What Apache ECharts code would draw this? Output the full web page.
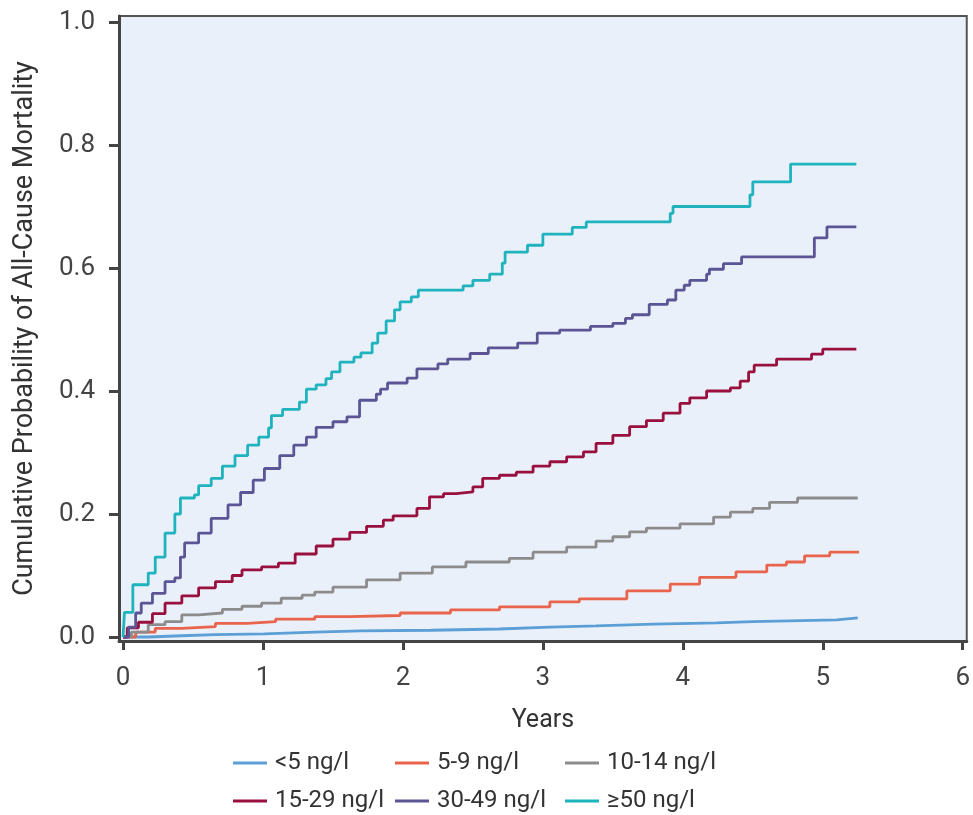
<!DOCTYPE html>
<html lang="en">
<head>
<meta charset="utf-8">
<title>Cumulative Probability of All-Cause Mortality</title>
<script src="https://cdn.jsdelivr.net/npm/echarts@6/dist/echarts.min.js"></script>
<style>
  html, body { margin: 0; padding: 0; background: #fff; }
  #chart { width: 973px; height: 815px; }
</style>
</head>
<body>
<div id="chart"></div>
<script type="text/javascript">
// group names
var groups = ['<5 ng/l', '5-9 ng/l', '10-14 ng/l', '15-29 ng/l', '30-49 ng/l', '\u226550 ng/l'];
var colors = ['#5b9fd6', '#e9644c', '#8c8c8c', '#990f3d', '#5b5596', '#1fb3be'];

// tick labels
var xTicks = [0, 1, 2, 3, 4, 5, 6];
var yTicks = [0, 0.2, 0.4, 0.6, 0.8, 1.0];

// step curves (time in years, cumulative probability)
var t1 = [0, 0.18, 0.42, 0.66, 1.01, 1.37, 1.70, 2.20, 2.69, 3.05, 3.38, 3.79, 4.24, 4.50, 5.10, 5.25];
var y1 = [0, 0.002, 0.004, 0.005, 0.008, 0.010, 0.011, 0.013, 0.016, 0.018, 0.021, 0.023, 0.025, 0.028, 0.031, 0.031];

var t2 = [0, 0.09, 0.23, 0.42, 0.66, 0.89, 1.09, 1.37, 1.62, 1.98, 2.34, 2.69, 3.05, 3.26, 3.60, 3.91, 4.12, 4.38, 4.60, 4.74, 4.87, 5.05, 5.26];
var y2 = [0, 0.008, 0.014, 0.017, 0.022, 0.025, 0.029, 0.033, 0.035, 0.039, 0.044, 0.049, 0.057, 0.062, 0.075, 0.086, 0.097, 0.106, 0.117, 0.122, 0.132, 0.138, 0.138];

var t3 = [0, 0.06, 0.18, 0.30, 0.42, 0.54, 0.71, 0.85, 0.99, 1.13, 1.28, 1.37, 1.50, 1.74, 1.98, 2.21, 2.45, 2.76, 2.93, 3.17, 3.38, 3.50, 3.62, 3.74, 3.98, 4.22, 4.34, 4.50, 4.62, 4.82, 5.25];
var y3 = [0, 0.008, 0.020, 0.025, 0.036, 0.039, 0.045, 0.050, 0.055, 0.063, 0.068, 0.073, 0.081, 0.093, 0.104, 0.114, 0.122, 0.128, 0.138, 0.146, 0.156, 0.163, 0.171, 0.177, 0.184, 0.195, 0.203, 0.209, 0.219, 0.226, 0.226];

var t4 = [0, 0.03, 0.11, 0.21, 0.30, 0.42, 0.54, 0.66, 0.78, 0.85, 0.99, 1.11, 1.23, 1.38, 1.50, 1.62, 1.74, 1.86, 1.93, 2.10, 2.19, 2.29, 2.38, 2.50, 2.57, 2.69, 2.81, 2.93, 3.05, 3.17, 3.29, 3.38, 3.50, 3.62, 3.74, 3.86, 3.98, 4.05, 4.17, 4.34, 4.41, 4.47, 4.51, 4.67, 4.92, 5.00, 5.24];
var y4 = [0, 0.015, 0.024, 0.038, 0.055, 0.067, 0.080, 0.090, 0.100, 0.109, 0.114, 0.120, 0.135, 0.148, 0.159, 0.170, 0.180, 0.190, 0.197, 0.209, 0.228, 0.233, 0.236, 0.244, 0.258, 0.263, 0.268, 0.278, 0.285, 0.293, 0.301, 0.315, 0.328, 0.342, 0.352, 0.364, 0.380, 0.389, 0.400, 0.405, 0.416, 0.431, 0.442, 0.452, 0.460, 0.468, 0.468];

var t5 = [0, 0.04, 0.09, 0.13, 0.21, 0.30, 0.37, 0.41, 0.44, 0.54, 0.63, 0.75, 0.84, 0.93, 1.01, 1.12, 1.22, 1.31, 1.38, 1.50, 1.60, 1.69, 1.81, 1.84, 1.89, 2.03, 2.10, 2.25, 2.32, 2.48, 2.61, 2.82, 2.96, 3.12, 3.34, 3.50, 3.59, 3.64, 3.76, 3.89, 3.95, 4.01, 4.05, 4.17, 4.19, 4.29, 4.42, 4.94, 5.03, 5.24];
var y5 = [0, 0.016, 0.039, 0.055, 0.071, 0.090, 0.096, 0.130, 0.153, 0.169, 0.193, 0.215, 0.235, 0.255, 0.274, 0.295, 0.312, 0.325, 0.341, 0.350, 0.358, 0.385, 0.395, 0.403, 0.413, 0.421, 0.436, 0.444, 0.452, 0.461, 0.470, 0.478, 0.494, 0.499, 0.505, 0.510, 0.518, 0.524, 0.541, 0.548, 0.564, 0.572, 0.580, 0.590, 0.598, 0.607, 0.618, 0.649, 0.667, 0.667];

var t6 = [0, 0.01, 0.07, 0.18, 0.23, 0.30, 0.37, 0.41, 0.51, 0.54, 0.63, 0.71, 0.80, 0.89, 0.97, 1.04, 1.06, 1.14, 1.26, 1.31, 1.38, 1.45, 1.49, 1.55, 1.65, 1.70, 1.78, 1.82, 1.88, 1.94, 1.98, 2.06, 2.11, 2.43, 2.50, 2.62, 2.71, 2.73, 2.89, 3.00, 3.21, 3.31, 3.91, 3.93, 4.48, 4.50, 4.77, 5.24];
var y6 = [0, 0.040, 0.085, 0.104, 0.130, 0.169, 0.200, 0.226, 0.231, 0.246, 0.258, 0.278, 0.295, 0.312, 0.325, 0.340, 0.360, 0.370, 0.382, 0.403, 0.410, 0.420, 0.431, 0.447, 0.455, 0.462, 0.478, 0.494, 0.514, 0.532, 0.545, 0.553, 0.564, 0.571, 0.580, 0.590, 0.608, 0.626, 0.637, 0.655, 0.666, 0.675, 0.689, 0.700, 0.719, 0.740, 0.769, 0.769];

var times = [t1, t2, t3, t4, t5, t6];
var probs = [y1, y2, y3, y4, y5, y6];

var font = 'Roboto, "Noto Sans", sans-serif';
var chart = echarts.init(document.getElementById('chart'));

function pairs(t, y) {
  return t.map(function (v, i) { return [v, y[i]]; });
}

var series = groups.map(function (name, i) {
  return {
    name: name,
    type: 'line',
    step: 'end',
    showSymbol: false,
    silent: true,
    data: pairs(times[i], probs[i]),
    lineStyle: { color: colors[i], width: 2.8 },
    itemStyle: { color: colors[i] },
    z: 3 + i
  };
});

// legend: 3 columns x 2 rows
var legendLeft = [228, 390, 560];
var legendTop = [746, 784];
var legends = groups.map(function (name, i) {
  return {
    data: [name],
    left: legendLeft[i % 3],
    top: legendTop[Math.floor(i / 3)],
    icon: 'rect',
    itemWidth: 34,
    itemHeight: 3,
    selectedMode: false,
    textStyle: { fontFamily: font, fontSize: 24, color: '#333', padding: [0, 0, 0, 3] }
  };
});

var option = {
  animation: false,
  grid: {
    left: 119, right: 6, top: 16, bottom: 174,
    show: true,
    backgroundColor: '#eaf0f9',
    borderColor: '#555',
    borderWidth: 2
  },
  legend: legends,
  xAxis: {
    type: 'value',
    min: -0.029, max: 6.029,
    name: 'Years',
    nameLocation: 'middle',
    nameGap: 67,
    nameTextStyle: { fontFamily: font, fontSize: 25, color: '#333' },
    splitLine: { show: false },
    axisLine: { show: true, onZero: false, lineStyle: { color: '#444', width: 3 } },
    axisTick: { show: true, customValues: xTicks, length: 9, lineStyle: { color: '#444', width: 3 } },
    axisLabel: { customValues: xTicks, fontFamily: font, fontSize: 26, color: '#444', margin: 24 }
  },
  yAxis: {
    type: 'value',
    min: -0.0065, max: 1.0098,
    name: 'Cumulative Probability of All-Cause Mortality',
    nameLocation: 'middle',
    nameGap: 80,
    nameTextStyle: { fontFamily: font, fontSize: 27, color: '#333' },
    splitLine: { show: false },
    axisLine: { show: true, onZero: false, lineStyle: { color: '#444', width: 3 } },
    axisTick: { show: true, customValues: yTicks, length: 10, lineStyle: { color: '#444', width: 3 } },
    axisLabel: {
      customValues: yTicks, fontFamily: font, fontSize: 26, color: '#444', margin: 24,
      formatter: function (v) { return v.toFixed(1); }
    }
  },
  series: series
};

chart.setOption(option);
</script>
</body>
</html>
